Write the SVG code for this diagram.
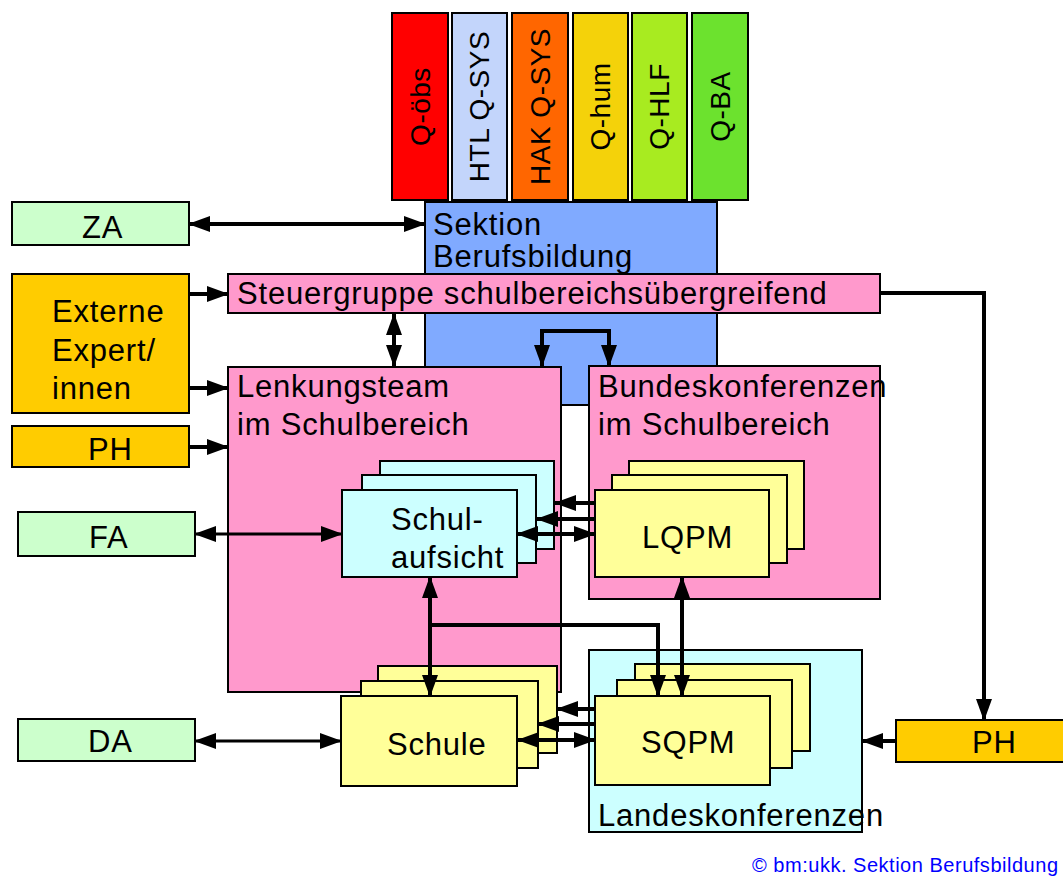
<svg xmlns="http://www.w3.org/2000/svg" width="1063" height="879" viewBox="0 0 1063 879">
<style>
  text { font-family: "Liberation Sans", Arial, sans-serif; fill: #000; }
  .t { font-size: 31px; letter-spacing: 0.8px; }
  .v { font-size: 28px; letter-spacing: 0.5px; }
  .b { stroke: #000; stroke-width: 2; }
  .green { fill: #CCFFCC; }
  .gold { fill: #FFCC00; }
  .pink { fill: #FF99CC; }
  .cyan { fill: #CCFFFF; }
  .yel { fill: #FFFF99; }
  .c { fill: none; stroke: #000; stroke-width: 4; }
  .c3 { fill: none; stroke: #000; stroke-width: 3; }
  .e { marker-end: url(#ah); }
  .s { marker-start: url(#ah); }
</style>
<defs>
  <marker id="ah" markerUnits="userSpaceOnUse" markerWidth="22" markerHeight="16" refX="21" refY="8" orient="auto-start-reverse">
    <path d="M0,0 L22,8 L0,16 Z" fill="#000"/>
  </marker>
</defs>
<rect width="1063" height="879" fill="#FFFFFF"/>

<g id="q-obs"><rect class="b" x="392" y="13" width="56" height="187" fill="#FF0000"/><text class="v" transform="translate(420,106.5) rotate(-90)" text-anchor="middle" dominant-baseline="central">Q-öbs</text></g>
<g id="htl-q-sys"><rect class="b" x="452" y="13" width="55" height="187" fill="#C3D5FB"/><text class="v" transform="translate(479.5,106.5) rotate(-90)" text-anchor="middle" dominant-baseline="central">HTL Q-SYS</text></g>
<g id="hak-q-sys"><rect class="b" x="512" y="13" width="56" height="187" fill="#FF6600"/><text class="v" transform="translate(540,106.5) rotate(-90)" text-anchor="middle" dominant-baseline="central">HAK Q-SYS</text></g>
<g id="q-hum"><rect class="b" x="573" y="13" width="55" height="187" fill="#F4D20A"/><text class="v" transform="translate(600.5,106.5) rotate(-90)" text-anchor="middle" dominant-baseline="central">Q-hum</text></g>
<g id="q-hlf"><rect class="b" x="632" y="13" width="55" height="187" fill="#A8EB20"/><text class="v" transform="translate(659.5,106.5) rotate(-90)" text-anchor="middle" dominant-baseline="central">Q-HLF</text></g>
<g id="q-ba"><rect class="b" x="692" y="13" width="56" height="187" fill="#6CE22E"/><text class="v" transform="translate(720,106.5) rotate(-90)" text-anchor="middle" dominant-baseline="central">Q-BA</text></g>

<g id="sektion"><rect class="b" x="425" y="202" width="292" height="203" fill="#80AAFF"/><text class="t" x="433" y="235">Sektion</text><text class="t" x="433" y="267">Berufsbildung</text></g>

<g id="steuergruppe"><rect class="b pink" x="228" y="274" width="652" height="39"/><text class="t" x="237" y="304">Steuergruppe schulbereichsübergreifend</text></g>

<g id="lenkungsteam"><rect class="b pink" x="228" y="367" width="333" height="325"/><text class="t" x="237" y="397">Lenkungsteam</text><text class="t" x="237" y="435">im Schulbereich</text></g>

<g id="bundeskonferenzen"><rect class="b pink" x="589" y="366" width="291" height="233"/><text class="t" x="598" y="397">Bundeskonferenzen</text><text class="t" x="598" y="435">im Schulbereich</text></g>

<g id="schulaufsicht">
  <rect class="b cyan" x="380" y="461" width="174" height="88"/>
  <rect class="b cyan" x="362" y="475" width="174" height="88"/>
  <rect class="b cyan" x="342" y="490" width="175" height="87"/>
  <text class="t" x="391" y="530">Schul-</text><text class="t" x="391" y="568">aufsicht</text>
</g>

<g id="lqpm">
  <rect class="b yel" x="629" y="461" width="175" height="88"/>
  <rect class="b yel" x="612" y="475" width="175" height="88"/>
  <rect class="b yel" x="595" y="490" width="174" height="87"/>
  <text class="t" x="642" y="548">LQPM</text>
</g>

<g id="landeskonferenzen"><rect class="b cyan" x="589" y="650" width="273" height="182"/><text class="t" x="598" y="826">Landeskonferenzen</text></g>

<g id="schule">
  <rect class="b yel" x="378" y="666" width="179" height="87"/>
  <rect class="b yel" x="361" y="681" width="177" height="87"/>
  <rect class="b yel" x="341" y="696" width="176" height="90"/>
  <text class="t" x="387" y="755">Schule</text>
</g>

<g id="sqpm">
  <rect class="b yel" x="635" y="664" width="175" height="87"/>
  <rect class="b yel" x="617" y="680" width="175" height="88"/>
  <rect class="b yel" x="595" y="696" width="175" height="89"/>
  <text class="t" x="641" y="753">SQPM</text>
</g>

<g id="za"><rect class="b green" x="12" y="202" width="177" height="43"/><text class="t" x="82" y="238">ZA</text></g>
<g id="externe"><rect class="b gold" x="12" y="274" width="177" height="139"/><text class="t" x="52" y="322">Externe</text><text class="t" x="52" y="361">Expert/</text><text class="t" x="52" y="399">innen</text></g>
<g id="ph-left"><rect class="b gold" x="12" y="426" width="177" height="41"/><text class="t" x="88" y="460">PH</text></g>
<g id="fa"><rect class="b green" x="18" y="512" width="177" height="44"/><text class="t" x="89" y="548">FA</text></g>
<g id="da"><rect class="b green" x="18" y="719" width="177" height="42"/><text class="t" x="88" y="752">DA</text></g>
<g id="ph-right"><rect class="b gold" x="896" y="720" width="170" height="42"/><text class="t" x="972" y="753">PH</text></g>

<g id="connectors">
  <line class="c s e" x1="189" y1="224" x2="425" y2="224"/>
  <line class="c e" x1="189" y1="294" x2="228" y2="294"/>
  <line class="c e" x1="189" y1="388" x2="228" y2="388"/>
  <line class="c e" x1="189" y1="447" x2="228" y2="447"/>
  <line class="c s e" x1="394" y1="314" x2="394" y2="366"/>
  <path class="c s e" d="M542,366 V331 H609 V366"/>
  <path class="c e" d="M880,293 H984 V720"/>
  <line class="c e" x1="896" y1="741" x2="862" y2="741"/>
  <line class="c3 s e" x1="195" y1="534" x2="342" y2="534"/>
  <line class="c3 s e" x1="195" y1="741" x2="341" y2="741"/>
  <line class="c s e" x1="430" y1="577" x2="430" y2="696"/>
  <path class="c e" d="M430,625 H658 V696"/>
  <line class="c s e" x1="682" y1="577" x2="682" y2="696"/>
  <line class="c e" x1="595" y1="503" x2="555" y2="503"/>
  <line class="c e" x1="595" y1="519" x2="537" y2="519"/>
  <line class="c s e" x1="517" y1="534" x2="595" y2="534"/>
  <line class="c e" x1="595" y1="709" x2="557" y2="709"/>
  <line class="c e" x1="595" y1="724" x2="538" y2="724"/>
  <line class="c s e" x1="518" y1="740" x2="595" y2="740"/>
</g>

<text x="752" y="872" font-size="20" fill="#0000FF" style="fill:#0000FF" textLength="306" lengthAdjust="spacing">© bm:ukk. Sektion Berufsbildung</text>
</svg>
